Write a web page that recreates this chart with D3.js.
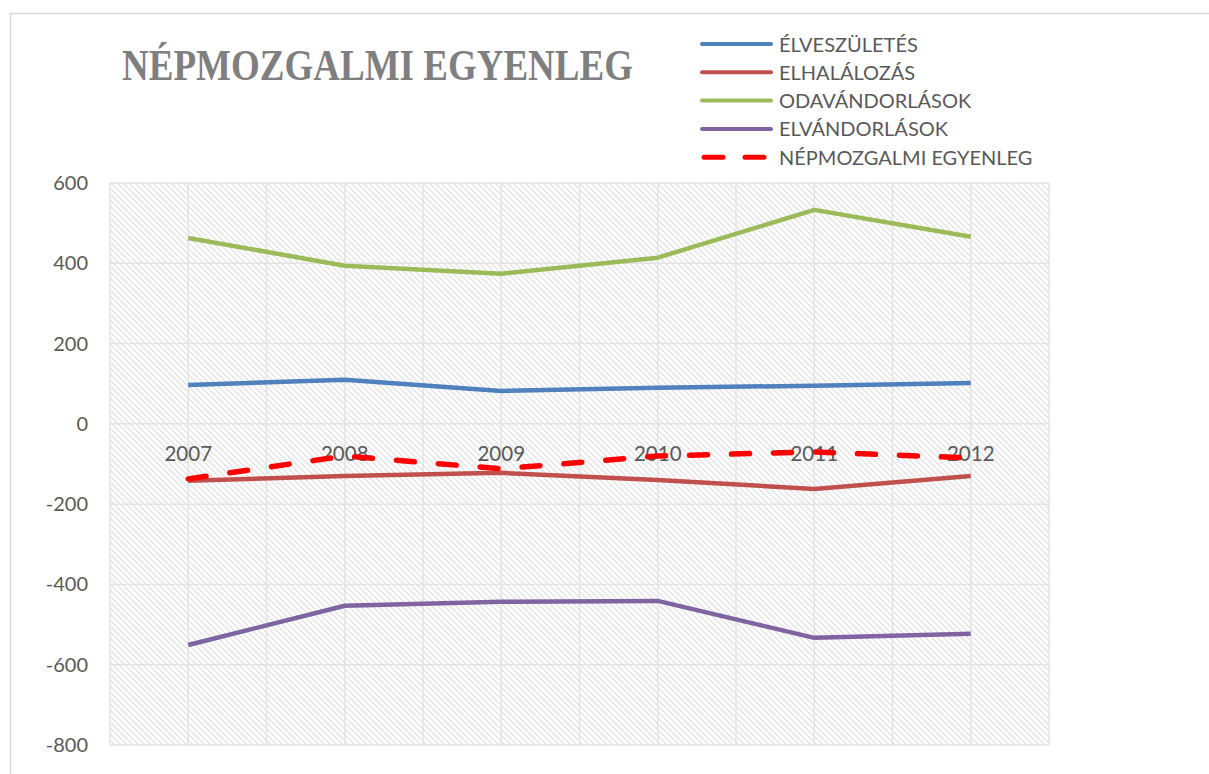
<!DOCTYPE html>
<html>
  <head>
    <meta charset="utf-8">
    <title>Népmozgalmi egyenleg | D3</title>
    <script src="https://d3js.org/d3.v7.min.js" charset="utf-8"></script>
    <style>
      body { margin: 0; background: white; }
      svg { display: block; font-family: "Lato", "Open Sans", sans-serif; }
    </style>
  </head>
  <body>
    <script>
      // data
      var years = ["2007", "2008", "2009", "2010", "2011", "2012"];
      var elveszuletes = [97, 110, 82, 90, 95, 102];
      var elhalalozas = [-142, -130, -122, -140, -162, -130];
      var odavandorlasok = [463, 394, 374, 414, 533, 466];
      var elvandorlasok = [-551, -453, -443, -441, -533, -523];
      var egyenleg = [-137, -80, -112, -80, -70, -85];
      var yTicks = [600, 400, 200, 0, -200, -400, -600, -800];

      var series = [
        { name: "ÉLVESZÜLETÉS", values: elveszuletes, color: "#4f81bd", dash: null },
        { name: "ELHALÁLOZÁS", values: elhalalozas, color: "#c0504d", dash: null },
        { name: "ODAVÁNDORLÁSOK", values: odavandorlasok, color: "#9bbb59", dash: null },
        { name: "ELVÁNDORLÁSOK", values: elvandorlasok, color: "#8064a2", dash: null },
        { name: "NÉPMOZGALMI EGYENLEG", values: egyenleg, color: "#ff0000", dash: "18,24" }
      ];

      var width = 1209;
      var height = 774;
      var plot = { left: 110, right: 1049, top: 183, bottom: 745 };

      var svg = d3.select("body").append("svg")
        .attr("width", width)
        .attr("height", height);

      // hatch fill for the plot area
      var defs = svg.append("defs");
      var pat = defs.append("pattern")
        .attr("id", "hatch")
        .attr("patternUnits", "userSpaceOnUse")
        .attr("width", 6)
        .attr("height", 6);
      pat.append("rect").attr("width", 6).attr("height", 6).attr("fill", "white");
      pat.append("path")
        .attr("d", "M-1,-1 L7,7 M-1,5 L1,7 M5,-1 L7,1")
        .attr("stroke", "#e2e2e2")
        .attr("stroke-width", 1.3);

      // outer chart border
      svg.append("rect")
        .attr("x", 10.5).attr("y", 13.5)
        .attr("width", 1300).attr("height", 900)
        .attr("fill", "none")
        .attr("stroke", "#d9d9d9")
        .attr("stroke-width", 1.5);

      var x = d3.scaleBand().domain(years).range([plot.left, plot.right]);
      var y = d3.scaleLinear().domain([-800, 600]).range([plot.bottom, plot.top]);

      svg.append("rect")
        .attr("x", plot.left).attr("y", plot.top)
        .attr("width", plot.right - plot.left)
        .attr("height", plot.bottom - plot.top)
        .attr("fill", "url(#hatch)");

      // gridlines: horizontal at ticks, vertical at band edges and centers
      var g = svg.append("g");
      g.selectAll("line.h")
        .data(yTicks)
        .enter()
        .append("line")
        .attr("class", "h")
        .attr("x1", plot.left).attr("x2", plot.right)
        .attr("y1", function(d){ return y(d); })
        .attr("y2", function(d){ return y(d); })
        .attr("stroke", "#e3e3e3")
        .attr("stroke-width", 1.5);

      var vx = [];
      years.forEach(function(yr){
        vx.push(x(yr));
        vx.push(x(yr) + x.bandwidth() / 2);
      });
      vx.push(plot.right);
      g.selectAll("line.v")
        .data(vx)
        .enter()
        .append("line")
        .attr("class", "v")
        .attr("x1", function(d){ return d; })
        .attr("x2", function(d){ return d; })
        .attr("y1", plot.top).attr("y2", plot.bottom)
        .attr("stroke", "#e3e3e3")
        .attr("stroke-width", 1.5);

      // y axis labels
      svg.selectAll("text.ytick")
        .data(yTicks)
        .enter()
        .append("text")
        .attr("class", "ytick")
        .attr("x", 88)
        .attr("y", function(d){ return y(d) + 7; })
        .attr("text-anchor", "end")
        .attr("font-size", 20)
        .attr("fill", "#595959")
        .text(function(d){ return d; });

      // category labels sit just below zero
      svg.selectAll("text.xtick")
        .data(years)
        .enter()
        .append("text")
        .attr("class", "xtick")
        .attr("x", function(d){ return x(d) + x.bandwidth() / 2; })
        .attr("y", y(0) + 37)
        .attr("text-anchor", "middle")
        .attr("font-size", 20.5)
        .attr("fill", "#595959")
        .text(function(d){ return d; });

      var line = d3.line()
        .x(function(d, i){ return x(years[i]) + x.bandwidth() / 2; })
        .y(function(d){ return y(d); });

      svg.append("g").selectAll("path")
        .data(series)
        .enter()
        .append("path")
        .attr("d", function(s){ return line(s.values); })
        .attr("fill", "none")
        .attr("stroke", function(s){ return s.color; })
        .attr("stroke-width", function(s){ return s.dash ? 5.5 : 4.5; })
        .attr("stroke-dasharray", function(s){ return s.dash; })
        .attr("stroke-linecap", function(s){ return s.dash ? "round" : "butt"; })
        .attr("stroke-linejoin", "round");

      // title
      svg.append("text")
        .attr("x", 122)
        .attr("y", 80)
        .attr("font-family", "'Liberation Serif', 'DejaVu Serif', serif")
        .attr("font-weight", "bold")
        .attr("font-size", 45)
        .attr("fill", "#7f7f7f")
        .attr("textLength", 511)
        .attr("lengthAdjust", "spacingAndGlyphs")
        .text("NÉPMOZGALMI EGYENLEG");

      // legend
      var legend = svg.append("g").selectAll("g")
        .data(series)
        .enter()
        .append("g")
        .attr("transform", function(s, i){ return "translate(702," + (44 + i * 28.3) + ")"; });

      legend.append("line")
        .attr("x1", function(s){ return s.dash ? 2 : 0; })
        .attr("x2", function(s){ return s.dash ? 67 : 69; })
        .attr("stroke", function(s){ return s.color; })
        .attr("stroke-width", function(s){ return s.dash ? 5 : 4; })
        .attr("stroke-dasharray", function(s){ return s.dash ? "19,22" : null; })
        .attr("stroke-linecap", "round");

      legend.append("text")
        .attr("x", 77)
        .attr("y", 7.5)
        .attr("font-size", 20)
        .attr("fill", "#595959")
        .text(function(s){ return s.name; });
    </script>
  </body>
</html>
